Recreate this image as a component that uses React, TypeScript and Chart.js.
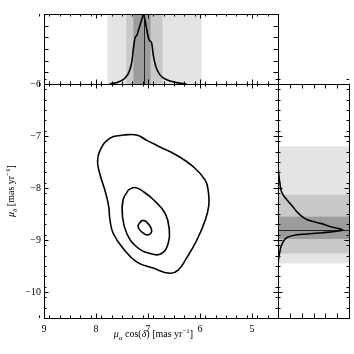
import React, { useEffect, useRef } from 'react';
import { Chart, registerables } from 'chart.js';

Chart.register(...registerables);

// ---------- data ----------
const X_MIN = 4.5;
const X_MAX = 9;
const Y_MIN = -10.5;
const Y_MAX = -6;
const xTickValues = [9, 8, 7, 6, 5];
const yTickValues = [-6, -7, -8, -9, -10];

// contours in (mu_alpha cos delta, mu_delta)
const outerContour: number[][] = [
  [7.48, -6.98], [7.22, -6.98], [7.03, -7.08], [6.77, -7.21], [6.45, -7.37], [6.13, -7.59],
  [5.9, -7.85], [5.84, -8.07], [5.83, -8.33], [5.9, -8.62], [6.06, -9.0], [6.26, -9.35],
  [6.42, -9.58], [6.58, -9.64], [6.9, -9.54], [7.22, -9.42], [7.48, -9.16], [7.67, -8.87],
  [7.73, -8.62], [7.76, -8.33], [7.83, -8.04], [7.92, -7.75], [7.97, -7.49], [7.92, -7.27],
  [7.73, -7.04],
];
const middleContour: number[][] = [
  [7.38, -8.04], [7.25, -7.99], [7.09, -8.07], [6.89, -8.23], [6.67, -8.49], [6.59, -8.81],
  [6.61, -9.06], [6.74, -9.26], [6.96, -9.26], [7.22, -9.13], [7.41, -8.87], [7.49, -8.55],
  [7.48, -8.23],
];
const innerContour: number[][] = [
  [7.12, -8.62], [7.03, -8.65], [6.93, -8.81], [6.99, -8.9], [7.09, -8.87], [7.19, -8.74],
];

// marginal of mu_alpha (value, density)
const topHistX = [7.73, 7.57, 7.44, 7.36, 7.31, 7.28, 7.25, 7.21, 7.17, 7.12, 7.09, 7.06, 7.03, 6.98, 6.93, 6.9, 6.85, 6.77, 6.64, 6.45, 6.26];
const topHistD = [0, 0.03, 0.085, 0.18, 0.32, 0.51, 0.655, 0.7, 0.8, 0.92, 0.99, 0.92, 0.8, 0.63, 0.585, 0.42, 0.25, 0.13, 0.06, 0.02, 0];

// marginal of mu_delta (value, density)
const rightHistY = [-7.6, -7.85, -8.05, -8.15, -8.25, -8.36, -8.45, -8.55, -8.62, -8.68, -8.74, -8.81, -8.86, -8.9, -8.96, -9.1, -9.3, -9.45];
const rightHistD = [0, 0.02, 0.045, 0.08, 0.14, 0.21, 0.26, 0.34, 0.43, 0.6, 0.73, 0.91, 0.62, 0.27, 0.12, 0.05, 0.015, 0];

const muAlphaBest = 7.08;
const muAlphaBands = [[7.78, 5.97], [7.42, 6.72], [7.28, 6.95]];
const muDeltaBest = -8.81;
const muDeltaBands = [[-7.2, -9.45], [-8.13, -9.26], [-8.55, -8.98]];
const bandColors = ['#e4e4e4', '#c9c9c9', '#9c9c9c'];

// ---------- helpers ----------
const FONT = "'Liberation Serif', 'Times New Roman', serif";

function fmtTick(v: number): string {
  return v < 0 ? '\u2212' + Math.abs(v) : String(v);
}

function stepValues(min: number, max: number, step: number): number[] {
  const out: number[] = [];
  const n = Math.round((max - min) / step);
  for (let i = 0; i <= n; i++) out.push(+(min + i * step).toFixed(6));
  return out;
}

type TickCfg = {
  xMajor: number[];
  xMinor: number[];
  yMajor: number[];
  yMinor: number[];
};

function framePlugin(id: string, cfg: TickCfg) {
  return {
    id,
    afterDatasetsDraw(chart: any) {
      const { ctx, chartArea, scales } = chart;
      const left = Math.round(chartArea.left);
      const right = Math.round(chartArea.right);
      const top = Math.round(chartArea.top);
      const bottom = Math.round(chartArea.bottom);
      const xs = scales.x;
      const ys = scales.y;
      const MAJ = 4.5;
      const MIN = 2.5;
      ctx.save();
      ctx.strokeStyle = '#000';
      ctx.lineWidth = 1;
      ctx.beginPath();
      const xt = (v: number, len: number) => {
        const p = Math.round(xs.getPixelForValue(v)) + 0.5;
        ctx.moveTo(p, bottom);
        ctx.lineTo(p, bottom - len);
        ctx.moveTo(p, top);
        ctx.lineTo(p, top + len);
      };
      const yt = (v: number, len: number) => {
        const p = Math.round(ys.getPixelForValue(v)) + 0.5;
        ctx.moveTo(left, p);
        ctx.lineTo(left + len, p);
        ctx.moveTo(right, p);
        ctx.lineTo(right - len, p);
      };
      cfg.xMajor.forEach((v) => xt(v, MAJ));
      cfg.xMinor.forEach((v) => xt(v, MIN));
      cfg.yMajor.forEach((v) => yt(v, MAJ));
      cfg.yMinor.forEach((v) => yt(v, MIN));
      ctx.stroke();
      ctx.strokeRect(left + 0.5, top + 0.5, right - left, bottom - top);
      ctx.restore();
    },
  };
}

type Part = { t: string; i?: boolean; sub?: boolean; sup?: boolean };

function drawRich(ctx: CanvasRenderingContext2D, parts: Part[], cx: number, cy: number, size: number) {
  const fontFor = (p: Part) => {
    const s = p.sub || p.sup ? size * 0.7 : size;
    return `${p.i ? 'italic ' : ''}${s}px ${FONT}`;
  };
  let w = 0;
  parts.forEach((p) => {
    ctx.font = fontFor(p);
    w += ctx.measureText(p.t).width;
  });
  let x = cx - w / 2;
  ctx.textBaseline = 'alphabetic';
  ctx.textAlign = 'left';
  ctx.fillStyle = '#000';
  parts.forEach((p) => {
    ctx.font = fontFor(p);
    const dy = p.sub ? size * 0.25 : p.sup ? -size * 0.4 : 0;
    ctx.fillText(p.t, x, cy + dy);
    x += ctx.measureText(p.t).width;
  });
}

const xLabelParts: Part[] = [
  { t: '\u03bc', i: true }, { t: '\u03b1', i: true, sub: true }, { t: ' cos(' }, { t: '\u03b4', i: true },
  { t: ') [mas yr' }, { t: '\u22121', sup: true }, { t: ']' },
];
const yLabelParts: Part[] = [
  { t: '\u03bc', i: true }, { t: '\u03b4', i: true, sub: true }, { t: ' [mas yr' }, { t: '\u22121', sup: true }, { t: ']' },
];

const titlesPlugin = {
  id: 'titles',
  afterDraw(chart: any) {
    const { ctx, chartArea } = chart;
    ctx.save();
    drawRich(ctx, xLabelParts, (chartArea.left + chartArea.right) / 2 - 7.5, chartArea.bottom + 19, 10);
    ctx.translate(14, (chartArea.top + chartArea.bottom) / 2 - 10);
    ctx.rotate(-Math.PI / 2);
    drawRich(ctx, yLabelParts, 0, 0, 10);
    ctx.restore();
  },
};

function bandsPlugin(id: string, horizontal: boolean, bands: number[][], best: number) {
  return {
    id,
    beforeDatasetsDraw(chart: any) {
      const { ctx, chartArea, scales } = chart;
      ctx.save();
      bands.forEach((b, k) => {
        ctx.fillStyle = bandColors[k];
        if (horizontal) {
          const a = scales.x.getPixelForValue(b[0]);
          const c = scales.x.getPixelForValue(b[1]);
          ctx.fillRect(Math.min(a, c), chartArea.top, Math.abs(c - a), chartArea.bottom - chartArea.top);
        } else {
          const a = scales.y.getPixelForValue(b[0]);
          const c = scales.y.getPixelForValue(b[1]);
          ctx.fillRect(chartArea.left, Math.min(a, c), chartArea.right - chartArea.left, Math.abs(c - a));
        }
      });
      ctx.strokeStyle = '#222';
      ctx.lineWidth = 1;
      ctx.beginPath();
      if (horizontal) {
        const p = Math.round(scales.x.getPixelForValue(best)) + 0.5;
        ctx.moveTo(p, chartArea.top);
        ctx.lineTo(p, chartArea.bottom);
      } else {
        const p = Math.round(scales.y.getPixelForValue(best)) + 0.5;
        ctx.moveTo(chartArea.left, p);
        ctx.lineTo(chartArea.right, p);
      }
      ctx.stroke();
      ctx.restore();
    },
  };
}

const baseOptions = {
  animation: false as const,
  responsive: false,
  maintainAspectRatio: false,
  devicePixelRatio: 1,
  events: [] as any[],
  plugins: { legend: { display: false }, tooltip: { enabled: false } },
};

const xMinorVals = stepValues(X_MIN, X_MAX, 0.2).filter((v) => !xTickValues.some((m) => Math.abs(m - v) < 1e-6));
const yMinorVals = stepValues(Y_MIN, Y_MAX, 0.2).filter((v) => !yTickValues.some((m) => Math.abs(m - v) < 1e-6));
const densityTicks = stepValues(0, 1, 1 / 6);

const toPts = (arr: number[][]) => arr.map((p) => ({ x: p[0], y: p[1] }));
const closed = (arr: number[][]) => toPts([...arr, arr[0]]);

const lineDs = (data: any[], tension: number, width: number) => ({
  data,
  showLine: true,
  pointRadius: 0,
  borderColor: '#000',
  borderWidth: width,
  tension,
  fill: false,
});

function makeMain(canvas: HTMLCanvasElement) {
  const tickFont = { family: FONT, size: 10 };
  return new Chart(canvas, {
    type: 'scatter',
    data: {
      datasets: [
        lineDs(closed(outerContour), 0.45, 1.6),
        lineDs(closed(middleContour), 0.45, 1.6),
        lineDs(closed(innerContour), 0.45, 1.6),
      ] as any,
    },
    options: {
      ...baseOptions,
      layout: { padding: { left: 0, top: 84, right: 76, bottom: 0 } },
      scales: {
        x: {
          type: 'linear',
          position: 'bottom',
          min: X_MIN,
          max: X_MAX,
          reverse: true,
          afterBuildTicks: (s: any) => { s.ticks = xTickValues.map((v) => ({ value: v })); },
          afterFit: (s: any) => { s.height = 36; },
          grid: { display: false, drawTicks: false },
          border: { display: false },
          ticks: { color: '#000', padding: 5, font: tickFont, maxRotation: 0, autoSkip: false, callback: (v: any) => fmtTick(Number(v)) },
        },
        y: {
          type: 'linear',
          position: 'left',
          min: Y_MIN,
          max: Y_MAX,
          afterBuildTicks: (s: any) => { s.ticks = yTickValues.map((v) => ({ value: v })); },
          afterFit: (s: any) => { s.width = 44; },
          grid: { display: false, drawTicks: false },
          border: { display: false },
          ticks: { color: '#000', padding: 3, font: tickFont, autoSkip: false, callback: (v: any) => fmtTick(Number(v)) },
        },
      },
    } as any,
    plugins: [
      framePlugin('frameMain', { xMajor: xTickValues, xMinor: xMinorVals, yMajor: yTickValues, yMinor: yMinorVals }),
      titlesPlugin,
    ],
  });
}

function makeTop(canvas: HTMLCanvasElement) {
  const pts = topHistX.map((x, i) => ({ x, y: topHistD[i] }));
  return new Chart(canvas, {
    type: 'scatter',
    data: { datasets: [{ ...lineDs(pts, 0, 1.6), cubicInterpolationMode: 'monotone' }] as any },
    options: {
      ...baseOptions,
      layout: { padding: { left: 44, top: 14, right: 76, bottom: 270 } },
      scales: {
        x: { type: 'linear', display: false, min: X_MIN, max: X_MAX, reverse: true },
        y: { type: 'linear', display: false, min: 0, max: 1 },
      },
    } as any,
    plugins: [
      bandsPlugin('bandsTop', true, muAlphaBands, muAlphaBest),
      framePlugin('frameTop', { xMajor: xTickValues, xMinor: xMinorVals, yMajor: densityTicks, yMinor: [] }),
    ],
  });
}

function makeRight(canvas: HTMLCanvasElement) {
  const pts = rightHistY.map((y, i) => ({ x: rightHistD[i], y }));
  return new Chart(canvas, {
    type: 'scatter',
    data: { datasets: [lineDs(pts, 0.25, 1.6)] as any },
    options: {
      ...baseOptions,
      layout: { padding: { left: 278, top: 84, right: 5, bottom: 36 } },
      scales: {
        x: { type: 'linear', display: false, min: 0, max: 1 },
        y: { type: 'linear', display: false, min: Y_MIN, max: Y_MAX },
      },
    } as any,
    plugins: [
      bandsPlugin('bandsRight', false, muDeltaBands, muDeltaBest),
      framePlugin('frameRight', { xMajor: densityTicks, xMinor: [], yMajor: yTickValues, yMinor: yMinorVals }),
    ],
  });
}

export default function App() {
  const mainRef = useRef<HTMLCanvasElement>(null);
  const topRef = useRef<HTMLCanvasElement>(null);
  const rightRef = useRef<HTMLCanvasElement>(null);

  useEffect(() => {
    const charts: Chart[] = [];
    if (topRef.current) charts.push(makeTop(topRef.current));
    if (rightRef.current) charts.push(makeRight(rightRef.current));
    if (mainRef.current) charts.push(makeMain(mainRef.current));
    return () => charts.forEach((c) => c.destroy());
  }, []);

  const cs: React.CSSProperties = { position: 'absolute', left: 0, top: 0, width: 354, height: 354 };
  return (
    <div style={{ position: 'absolute', left: 0, top: 0, width: 354, height: 354, background: '#fff' }}>
      <canvas ref={topRef} width={354} height={354} style={cs} />
      <canvas ref={rightRef} width={354} height={354} style={cs} />
      <canvas ref={mainRef} width={354} height={354} style={cs} />
    </div>
  );
}
